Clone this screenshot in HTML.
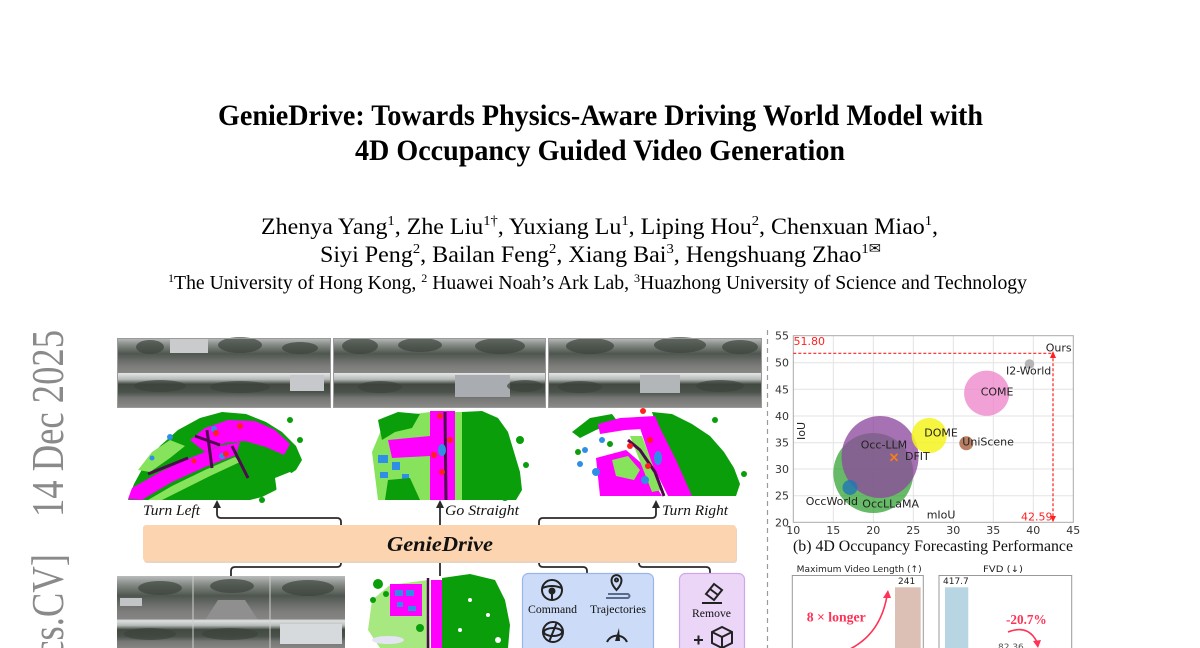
<!DOCTYPE html>
<html><head><meta charset="utf-8">
<style>
html,body{margin:0;padding:0;background:#fff;}
body{width:1200px;height:648px;overflow:hidden;position:relative;}
svg{position:absolute;left:0;top:0;}
</style></head><body>
<svg width="1200" height="648" viewBox="0 0 1200 648" xmlns="http://www.w3.org/2000/svg">
<defs>
<linearGradient id="gF" x1="0" y1="0" x2="0" y2="1">
 <stop offset="0" stop-color="#b9bcbb"/><stop offset="0.22" stop-color="#7f847f"/>
 <stop offset="0.45" stop-color="#4f564f"/><stop offset="0.62" stop-color="#676a67"/>
 <stop offset="0.8" stop-color="#7c7d7b"/><stop offset="1" stop-color="#868685"/>
</linearGradient>
<linearGradient id="gB" x1="0" y1="0" x2="0" y2="1">
 <stop offset="0" stop-color="#e4e6e6"/><stop offset="0.18" stop-color="#b6bab8"/>
 <stop offset="0.32" stop-color="#414941"/><stop offset="0.55" stop-color="#4b524b"/>
 <stop offset="0.72" stop-color="#767875"/><stop offset="1" stop-color="#8b8b89"/>
</linearGradient>
</defs>

<!-- arXiv stamp -->
<text transform="translate(63,517) rotate(-90)" font-family="Liberation Serif, serif" font-size="46" fill="#8a8a8a" textLength="187" lengthAdjust="spacingAndGlyphs">14 Dec 2025</text>
<text transform="translate(63,669) rotate(-90)" font-family="Liberation Serif, serif" font-size="46" fill="#8a8a8a" textLength="115" lengthAdjust="spacingAndGlyphs">[cs.CV]</text>

<!-- Title -->
<g font-family="Liberation Serif, serif" font-weight="bold" font-size="30" fill="#000">
<text x="218" y="125" textLength="765" lengthAdjust="spacingAndGlyphs">GenieDrive: Towards Physics-Aware Driving World Model with</text>
<text x="355" y="160" textLength="490" lengthAdjust="spacingAndGlyphs">4D Occupancy Guided Video Generation</text>
</g>
<!-- Authors -->
<g font-family="Liberation Serif, serif" font-size="23" fill="#000">
<text x="261" y="234" textLength="677" lengthAdjust="spacingAndGlyphs">Zhenya Yang<tspan font-size="14" dy="-9">1</tspan><tspan dy="9">, Zhe Liu</tspan><tspan font-size="14" dy="-9">1†</tspan><tspan dy="9">, Yuxiang Lu</tspan><tspan font-size="14" dy="-9">1</tspan><tspan dy="9">, Liping Hou</tspan><tspan font-size="14" dy="-9">2</tspan><tspan dy="9">, Chenxuan Miao</tspan><tspan font-size="14" dy="-9">1</tspan><tspan dy="9">,</tspan></text>
<text x="320" y="262" textLength="561" lengthAdjust="spacingAndGlyphs">Siyi Peng<tspan font-size="14" dy="-9">2</tspan><tspan dy="9">, Bailan Feng</tspan><tspan font-size="14" dy="-9">2</tspan><tspan dy="9">, Xiang Bai</tspan><tspan font-size="14" dy="-9">3</tspan><tspan dy="9">, Hengshuang Zhao</tspan><tspan font-size="14" dy="-9">1✉</tspan></text>
</g>
<text x="168" y="289" font-family="Liberation Serif, serif" font-size="19.5" textLength="859" lengthAdjust="spacingAndGlyphs"><tspan font-size="12" dy="-7">1</tspan><tspan dy="7">The University of Hong Kong, </tspan><tspan font-size="12" dy="-7">2</tspan><tspan dy="7"> Huawei Noah’s Ark Lab, </tspan><tspan font-size="12" dy="-7">3</tspan><tspan dy="7">Huazhong University of Science and Technology</tspan></text>

<!-- Top camera panels -->
<g>
 <rect x="117" y="338" width="214" height="35" fill="url(#gF)"/>
 <rect x="117" y="373" width="214" height="35" fill="url(#gB)"/>
 <rect x="170" y="339" width="38" height="14" fill="#c9cbcc"/>
 <rect x="290" y="375" width="34" height="16" fill="#c6c8cb"/>
 <rect x="333" y="338" width="213" height="35" fill="url(#gF)"/>
 <rect x="333" y="373" width="213" height="35" fill="url(#gB)"/>
 <rect x="455" y="375" width="55" height="22" fill="#a9adb1"/>
 <rect x="548" y="338" width="214" height="35" fill="url(#gF)"/>
 <rect x="548" y="373" width="214" height="35" fill="url(#gB)"/>
 <rect x="640" y="375" width="40" height="18" fill="#b3b6b9"/>
 <g fill="#3c433c" fill-opacity="0.7">
  <ellipse cx="150" cy="347" rx="14" ry="7"/><ellipse cx="240" cy="345" rx="22" ry="8"/><ellipse cx="300" cy="348" rx="18" ry="6"/>
  <ellipse cx="160" cy="386" rx="26" ry="6"/><ellipse cx="240" cy="387" rx="30" ry="6"/>
  <ellipse cx="360" cy="346" rx="18" ry="8"/><ellipse cx="420" cy="345" rx="22" ry="7"/><ellipse cx="500" cy="346" rx="25" ry="8"/>
  <ellipse cx="380" cy="387" rx="22" ry="6"/><ellipse cx="525" cy="386" rx="18" ry="6"/>
  <ellipse cx="590" cy="346" rx="24" ry="8"/><ellipse cx="680" cy="345" rx="26" ry="8"/><ellipse cx="740" cy="347" rx="18" ry="7"/>
  <ellipse cx="580" cy="387" rx="22" ry="6"/><ellipse cx="720" cy="386" rx="24" ry="6"/>
 </g>
 <g stroke="#9a9a9a" stroke-width="1" fill="none">
  <rect x="117.5" y="338.5" width="213" height="69"/>
  <rect x="333.5" y="338.5" width="212" height="69"/>
  <rect x="548.5" y="338.5" width="213" height="69"/>
 </g>
</g>

<!-- Occupancy map 1 -->
<g>
 <path fill="#0a9e0a" d="M128 500 L134 484 L146 462 L160 446 L178 430 L200 418 L222 412 L246 414 L266 422 L282 432 L296 446 L302 460 L296 470 L284 478 L276 490 L262 497 L250 500 Z"/>
 <path fill="#88e35c" d="M138 470 L152 452 L170 440 L185 446 L170 458 L150 472 Z"/>
 <path fill="#ff00ff" d="M190 440 L205 428 L228 420 L255 421 L275 430 L290 444 L284 455 L266 447 L245 441 L225 443 L205 452 Z"/>
 <path fill="#ff00ff" d="M128 499 L132 488 L160 472 L190 458 L220 446 L240 442 L236 455 L205 467 L172 482 L150 495 L142 500 Z"/>
 <path fill="#88e35c" d="M148 500 L172 486 L205 470 L235 457 L240 462 L210 476 L178 492 L162 500 Z"/>
 <path fill="#ffffff" d="M275 478 L290 472 L300 480 L296 500 L278 500 Z"/>
 <g stroke="#4d0a4d" stroke-width="3" fill="none">
  <path d="M148 474 L188 458"/><path d="M207 430 L212 468"/><path d="M232 446 L248 478"/><path d="M195 436 L220 445"/>
 </g>
 <g fill="#2f8fe6"><circle cx="170" cy="437" r="3"/><circle cx="214" cy="429" r="3"/><circle cx="152" cy="458" r="2.5"/><circle cx="222" cy="456" r="3"/></g>
 <g fill="#ff2020"><circle cx="216" cy="433" r="3"/><circle cx="240" cy="426" r="3"/><circle cx="226" cy="454" r="3"/><circle cx="194" cy="461" r="2.5"/></g>
 <g fill="#0a9e0a"><circle cx="290" cy="420" r="3"/><circle cx="300" cy="440" r="3"/><circle cx="262" cy="500" r="3"/></g>
</g>

<!-- Occupancy map 2 -->
<g>
 <path fill="#88e35c" d="M372 452 L382 428 L400 416 L430 412 L430 500 L378 500 Z"/>
 <path fill="#0a9e0a" d="M378 420 L398 412 L420 414 L412 428 L395 432 L382 440 Z"/>
 <path fill="#ff00ff" d="M388 440 L430 436 L430 456 L392 458 Z"/>
 <g fill="#2f8fe6"><rect x="378" y="455" width="10" height="8"/><rect x="392" y="462" width="8" height="8"/><rect x="380" y="472" width="8" height="6"/><rect x="402" y="474" width="7" height="6"/></g>
 <path fill="#0a9e0a" d="M388 480 L410 478 L420 500 L385 500 Z"/>
 <rect x="430" y="411" width="25" height="89" fill="#ff00ff"/>
 <rect x="455" y="412" width="7" height="88" fill="#88e35c"/>
 <path fill="#0a9e0a" d="M462 412 L482 411 L498 418 L508 432 L514 452 L520 472 L522 490 L516 500 L462 500 Z"/>
 <g fill="#0a9e0a"><circle cx="520" cy="440" r="4"/><circle cx="526" cy="465" r="3"/><circle cx="514" cy="490" r="3"/><circle cx="505" cy="497" r="4"/></g>
 <path d="M445 412 L446 500" stroke="#4d0a4d" stroke-width="3"/>
 <g fill="#ff2020"><circle cx="440" cy="416" r="3"/><circle cx="450" cy="440" r="3"/><circle cx="434" cy="455" r="3"/><circle cx="442" cy="472" r="3"/></g>
 <g fill="#2f8fe6"><ellipse cx="442" cy="450" rx="4" ry="6"/></g>
</g>

<!-- Occupancy map 3 -->
<g>
 <path fill="#0a9e0a" d="M572 432 L590 418 L612 414 L618 422 L596 430 L580 438 Z"/>
 <path fill="#0a9e0a" d="M652 412 L672 414 L692 424 L710 436 L724 452 L734 468 L740 484 L736 496 L690 496 L672 470 L662 445 Z"/>
 <path fill="#ff00ff" d="M598 424 L620 418 L655 416 L660 428 L625 430 L600 434 Z"/>
 <path fill="#ff00ff" d="M640 428 L660 428 L676 460 L692 496 L668 496 L652 464 Z"/>
 <path fill="#ff00ff" d="M596 458 L626 450 L640 462 L652 480 L662 496 L600 496 Z"/>
 <path fill="#88e35c" d="M612 460 L628 456 L640 470 L634 480 L616 476 Z"/>
 <path fill="#88e35c" d="M630 436 L642 436 L662 490 L652 492 Z"/>
 <path d="M628 440 L640 450 L655 472 L664 496" stroke="#4d0a4d" stroke-width="3" fill="none"/>
 <g fill="#2f8fe6"><circle cx="585" cy="450" r="3"/><circle cx="580" cy="464" r="3"/><circle cx="596" cy="472" r="4"/><circle cx="645" cy="480" r="4"/><ellipse cx="658" cy="458" rx="4" ry="7"/><circle cx="602" cy="440" r="3"/></g>
 <g fill="#0a9e0a"><circle cx="578" cy="452" r="3"/><circle cx="744" cy="474" r="3"/><circle cx="715" cy="420" r="3"/><circle cx="610" cy="444" r="3"/></g>
 <g fill="#ff2020"><circle cx="643" cy="411" r="3"/><circle cx="650" cy="440" r="3"/><circle cx="648" cy="466" r="3"/><circle cx="630" cy="446" r="3"/></g>
</g>

<!-- labels -->
<g font-family="Liberation Serif, serif" font-style="italic" font-size="15" fill="#111">
 <text x="143" y="515" textLength="57" lengthAdjust="spacingAndGlyphs">Turn Left</text>
 <text x="445" y="515" textLength="74" lengthAdjust="spacingAndGlyphs">Go  Straight</text>
 <text x="662" y="515" textLength="66" lengthAdjust="spacingAndGlyphs">Turn Right</text>
</g>

<!-- connectors -->
<g stroke="#2a2a2a" stroke-width="1.8" fill="none">
 <path d="M341 525 L341 522 Q341 518 337 518 L221 518 Q217 518 217 514 L217 506"/>
 <path d="M440 525 L440 506"/>
 <path d="M539 525 L539 522 Q539 518 543 518 L652 518 Q656 518 656 514 L656 506"/>
 <path d="M341 561 L341 563 Q341 567 337 567 L235 567 Q231 567 231 571 L231 576"/>
 <path d="M440 561 L440 576"/>
 <path d="M539 561 L539 563 Q539 567 543 567 L583 567 Q587 567 587 571 L587 574"/>
 <path d="M639 561 L639 563 Q639 567 643 567 L706 567 Q710 567 710 571 L710 574"/>
</g>
<g fill="#2a2a2a">
 <polygon points="213,508 221,508 217,500"/>
 <polygon points="436,508 444,508 440,500"/>
 <polygon points="652,508 660,508 656,500"/>
</g>

<!-- GenieDrive bar -->
<rect x="144" y="527" width="593" height="36" rx="3" fill="#ead3bf"/>
<rect x="143" y="525" width="593" height="36" rx="3" fill="#fcd5b0"/>
<text x="387" y="551" font-family="Liberation Serif, serif" font-weight="bold" font-style="italic" font-size="21" fill="#111" textLength="106" lengthAdjust="spacingAndGlyphs">GenieDrive</text>

<!-- bottom-left camera grid -->
<g>
 <rect x="117" y="576" width="228" height="44" fill="url(#gF)"/>
 <rect x="117" y="620" width="228" height="30" fill="url(#gB)"/>
 <path d="M205 620 L218 600 L245 600 L258 620 Z" fill="#8e8f8e"/>
 <rect x="280" y="624" width="62" height="20" fill="#d7dadd"/>
 <rect x="120" y="598" width="22" height="8" fill="#c2c4c6"/>
 <g fill="#3c433c" fill-opacity="0.7">
  <ellipse cx="160" cy="588" rx="22" ry="7"/><ellipse cx="232" cy="586" rx="22" ry="7"/><ellipse cx="308" cy="588" rx="26" ry="8"/>
  <ellipse cx="150" cy="634" rx="26" ry="6"/><ellipse cx="230" cy="634" rx="28" ry="6"/>
 </g>
 <g stroke="#cfcfcf" stroke-width="1"><path d="M193 576 V648"/><path d="M270 576 V648"/><path d="M117 620 H345"/></g>
</g>

<!-- bottom center occupancy -->
<g>
 <path fill="#a8e880" d="M372 600 L390 585 L428 580 L430 648 L380 648 L368 630 Z"/>
 <rect x="390" y="584" width="32" height="32" fill="#ff00ff"/>
 <g fill="#2f8fe6"><rect x="395" y="590" width="8" height="6"/><rect x="406" y="590" width="8" height="6"/><rect x="397" y="602" width="6" height="5"/><rect x="408" y="606" width="8" height="5"/></g>
 <g fill="#0a9e0a"><circle cx="378" cy="584" r="5"/><circle cx="373" cy="600" r="3"/><circle cx="386" cy="594" r="3"/><circle cx="420" cy="628" r="4"/></g>
 <rect x="431" y="580" width="11" height="68" fill="#ff00ff"/>
 <path d="M428 578 V648" stroke="#4d0a4d" stroke-width="2.5"/>
 <path fill="#0a9e0a" d="M442 578 L470 574 L495 580 L505 600 L510 625 L508 648 L442 648 Z"/>
 <g fill="#ffffff"><circle cx="470" cy="600" r="2"/><circle cx="488" cy="615" r="2"/><circle cx="498" cy="640" r="3"/><circle cx="460" cy="630" r="2"/></g>
 <ellipse cx="388" cy="640" rx="16" ry="4" fill="#e4e4f4"/>
</g>

<!-- blue panel -->
<rect x="522.5" y="573.5" width="131" height="80" rx="6" fill="#ccdcf8" stroke="#9ab4ec" stroke-width="1.2"/>
<g stroke="#222" stroke-width="2" fill="none">
 <circle cx="552" cy="590" r="10"/>
 <path d="M542.5 588 Q552 584 561.5 588"/>
 <circle cx="552" cy="591" r="2.5" fill="#222"/>
 <path d="M552 593 L552 600"/>
 <path d="M616.5 590 Q610 583 612 578 A5 5 0 0 1 621 578 Q623 583 616.5 590 Z"/>
 <circle cx="616.5" cy="580" r="1.5"/>
 <path d="M608 594 H628 Q631 596 628 598 H606" stroke="#5a6a8a"/>
 <circle cx="553" cy="632" r="10"/>
 <ellipse cx="553" cy="632" rx="9" ry="4"/>
 <path d="M557 622 L549 642"/>
 <path d="M607 642 A11 11 0 0 1 627 642"/>
</g>
<path d="M619 628 L615 641 L620 641 Z" fill="#222"/>
<g font-family="Liberation Serif, serif" font-size="12" fill="#111">
 <text x="528" y="613" textLength="49" lengthAdjust="spacingAndGlyphs">Command</text>
 <text x="590" y="613" textLength="56" lengthAdjust="spacingAndGlyphs">Trajectories</text>
</g>

<!-- purple panel -->
<rect x="679.5" y="573.5" width="65" height="80" rx="6" fill="#ecd6f7" stroke="#cfa6ea" stroke-width="1.2"/>
<g stroke="#222" stroke-width="2" fill="none">
 <path d="M706 594 L714 584 L722 590 L714 600 Z"/>
 <path d="M710 589 L718 595"/>
 <path d="M702 603 H722"/>
 <path d="M712 632 L722 627 L732 632 L732 643 L722 648 L712 643 Z"/>
 <path d="M712 632 L722 637 L732 632 M722 637 V648"/>
 <path d="M694 640 H703 M698.5 635.5 V644.5"/>
</g>
<text x="692" y="617" font-family="Liberation Serif, serif" font-size="12" fill="#111" textLength="39" lengthAdjust="spacingAndGlyphs">Remove</text>

<!-- separator -->
<path d="M767.5 330 V648" stroke="#9a9a9a" stroke-width="1.2" stroke-dasharray="5,4"/>

<!-- Scatter chart -->
<g stroke="#e3e3e3" stroke-width="1">
 <path d="M833.3 335.7 V522.3 M873.3 335.7 V522.3 M913.3 335.7 V522.3 M953.3 335.7 V522.3 M993.3 335.7 V522.3 M1033.3 335.7 V522.3"/>
 <path d="M793.3 362.7 H1073.3 M793.3 389.3 H1073.3 M793.3 416 H1073.3 M793.3 442.7 H1073.3 M793.3 469 H1073.3 M793.3 495.7 H1073.3"/>
</g>
<rect x="793.3" y="335.7" width="280" height="186.6" fill="none" stroke="#aaa" stroke-width="1"/>
<g font-family="DejaVu Sans, sans-serif" font-size="11" fill="#333" text-anchor="end">
 <text x="789" y="339.7">55</text><text x="789" y="366.7">50</text><text x="789" y="393.3">45</text><text x="789" y="420">40</text>
 <text x="789" y="446.7">35</text><text x="789" y="473">30</text><text x="789" y="499.7">25</text><text x="789" y="526.3">20</text>
</g>
<g font-family="DejaVu Sans, sans-serif" font-size="11" fill="#333" text-anchor="middle">
 <text x="793.3" y="534">10</text><text x="833.3" y="534">15</text><text x="873.3" y="534">20</text><text x="913.3" y="534">25</text>
 <text x="953.3" y="534">30</text><text x="993.3" y="534">35</text><text x="1033.3" y="534">40</text><text x="1073.3" y="534">45</text>
</g>
<!-- bubbles -->
<circle cx="873.3" cy="473" r="40" fill="#2ca02c" fill-opacity="0.72"/>
<ellipse cx="880" cy="457" rx="38.5" ry="41" fill="#8e4a9e" fill-opacity="0.78"/>
<circle cx="850" cy="487.5" r="7.5" fill="#1f77b4" fill-opacity="0.8"/>
<circle cx="929.2" cy="435.5" r="17.6" fill="#f5f51e" fill-opacity="0.85"/>
<circle cx="986.7" cy="393.2" r="22.6" fill="#ec82c8" fill-opacity="0.75"/>
<circle cx="966.3" cy="443.3" r="7" fill="#a8603c" fill-opacity="0.8"/>
<circle cx="1029.5" cy="364" r="4.8" fill="#b5b5b5"/>
<path d="M890.5 453.8 L897.5 460.8 M897.5 453.8 L890.5 460.8" stroke="#ff7f0e" stroke-width="1.6"/>
<!-- Ours dashed -->
<g stroke="#ff2020" stroke-width="1.2" stroke-dasharray="3,2" fill="none">
 <path d="M793.3 353.3 H1053"/>
 <path d="M1053 353.3 V522.3"/>
</g>
<polygon points="1050,358 1056,358 1053,351" fill="#ff2020"/>
<polygon points="1050,516 1056,516 1053,522" fill="#ff2020"/>
<g font-family="DejaVu Sans, sans-serif" font-size="11" fill="#222">
 <text x="1045.7" y="351.7">Ours</text>
 <text x="1006" y="374.3">I2-World</text>
 <text x="980.7" y="395.7">COME</text>
 <text x="924.3" y="436.7">DOME</text>
 <text x="962.3" y="445.7">UniScene</text>
 <text x="860.7" y="448.3">Occ-LLM</text>
 <text x="905" y="460">DFIT</text>
 <text x="805.7" y="505">OccWorld</text>
 <text x="862.3" y="507.7">OccLLaMA</text>
 <text x="926.7" y="518.3">mIoU</text>
 <text transform="translate(805,440) rotate(-90)">IoU</text>
</g>
<g font-family="DejaVu Sans, sans-serif" font-size="11" fill="#ff2020">
 <text x="793.5" y="345">51.80</text>
 <text x="1021" y="520.5">42.59</text>
</g>
<text x="793" y="551" font-family="Liberation Serif, serif" font-size="15.5" fill="#111" textLength="280" lengthAdjust="spacingAndGlyphs">(b) 4D Occupancy Forecasting Performance</text>

<!-- bar charts -->
<g font-family="DejaVu Sans, sans-serif" font-size="9" fill="#222">
 <text x="796.7" y="572" textLength="125" lengthAdjust="spacingAndGlyphs">Maximum Video Length (↑)</text>
 <text x="983" y="572" textLength="40" lengthAdjust="spacingAndGlyphs">FVD (↓)</text>
 <text x="898" y="584">241</text>
 <text x="943" y="584">417.7</text>
 <text x="998" y="650" fill="#555">82.36</text>
</g>
<rect x="792.3" y="575.5" width="131" height="80" fill="none" stroke="#999" stroke-width="1"/>
<rect x="939" y="575.5" width="132.7" height="80" fill="none" stroke="#999" stroke-width="1"/>
<rect x="895" y="587.3" width="25.7" height="70" fill="#dcc0b5"/>
<rect x="945" y="587.3" width="23.3" height="70" fill="#b8d5e3"/>
<g font-family="Liberation Serif, serif" font-weight="bold" font-size="14" fill="#ff3355">
 <text x="806.7" y="621.5" textLength="59" lengthAdjust="spacingAndGlyphs">8 × longer</text>
 <text x="1006" y="624" textLength="40.7" lengthAdjust="spacingAndGlyphs">-20.7%</text>
</g>
<g stroke="#ff3355" stroke-width="1.6" fill="none">
 <path d="M848 650 Q880 635 887 596"/>
 <path d="M1008 632 Q1028 624 1037 642"/>
</g>
<polygon points="883,598 891,598 888,590" fill="#ff3355"/>
<polygon points="1033,641 1041,640 1038,648" fill="#ff3355"/>
</svg>
</body></html>
